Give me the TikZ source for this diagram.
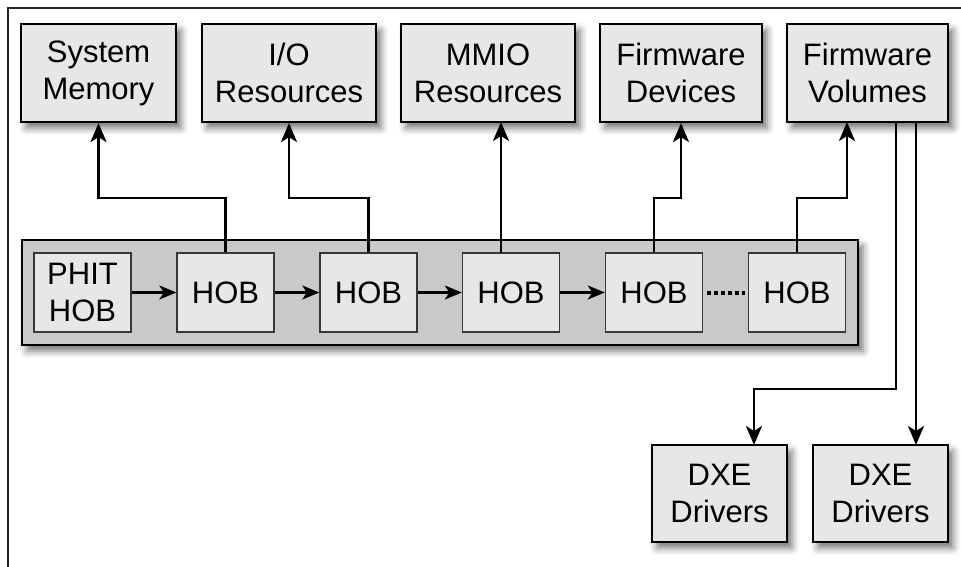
\documentclass[tikz,border=0pt]{standalone}
\usepackage{fontspec}
\setmainfont{Liberation Sans}
\usetikzlibrary{arrows.meta,shadows.blur}
\definecolor{boxgray}{RGB}{230,231,232}
\definecolor{contgray}{RGB}{200,201,203}
\definecolor{hobline}{RGB}{55,55,55}
\begin{document}
\begin{tikzpicture}[x=1pt,y=-1pt,
  font=\fontsize{31}{37}\selectfont,
  shad/.style={blur shadow={shadow xshift=5pt, shadow yshift=-6pt, shadow blur radius=7pt, shadow opacity=55}},
  topbox/.style={draw=black, line width=2.2pt, fill=boxgray, align=center, inner sep=0pt, shad},
  hobbox/.style={draw=hobline, line width=1.4pt, fill=boxgray, align=center, inner sep=0pt, minimum width=97pt, minimum height=79pt},
  contbox/.style={draw=black, line width=2.2pt, fill=contgray, inner sep=0pt, shad},
  arr/.style={line width=2.4pt, -{Stealth[length=19pt,width=16pt,inset=5pt]}},
  harr/.style={line width=2.2pt, -{Stealth[length=17pt,width=14pt,inset=4.5pt]}},
  link/.style={line width=2.4pt}
]
\useasboundingbox (0,0) rectangle (961,567);
\draw[line width=1.6pt, black!85] (8,567) -- (8,8) -- (961,8);

% top boxes
\node[topbox, minimum width=155pt, minimum height=98pt] (sm) at (98.5,73) {System\\Memory};
\node[topbox, minimum width=174pt, minimum height=98pt] (io) at (289,73) {I/O\\Resources};
\node[topbox, minimum width=174pt, minimum height=98pt] (mmio) at (488,73) {MMIO\\Resources};
\node[topbox, minimum width=162pt, minimum height=98pt] (fd) at (681,73) {Firmware\\Devices};
\node[topbox, minimum width=161pt, minimum height=98pt] (fv) at (867.5,73) {Firmware\\Volumes};

% container
\node[contbox, minimum width=836pt, minimum height=105pt] (cont) at (440,292.5) {};

% HOBs
\node[hobbox] (phit) at (82.5,292.5) {PHIT\\HOB};
\node[hobbox] (h1) at (225.5,292.5) {HOB};
\node[hobbox] (h2) at (368.5,292.5) {HOB};
\node[hobbox] (h3) at (511,292.5) {HOB};
\node[hobbox] (h4) at (654,292.5) {HOB};
\node[hobbox] (h5) at (797,292.5) {HOB};

% DXE boxes
\node[topbox, minimum width=135pt, minimum height=97pt] (dxe1) at (719.5,493.5) {DXE\\Drivers};
\node[topbox, minimum width=135pt, minimum height=97pt] (dxe2) at (880.5,493.5) {DXE\\Drivers};

% horizontal chain
\draw[harr] (phit.east) -- (h1.west);
\draw[harr] (h1.east) -- (h2.west);
\draw[harr] (h2.east) -- (h3.west);
\draw[harr] (h3.east) -- (h4.west);
\draw[line width=4pt, dash pattern=on 4pt off 3pt, shorten <=4pt, shorten >=3pt] (h4.east) -- (h5.west);

% upward connectors
\coordinate (fvin) at (847,122);
\coordinate (mmfoot) at (501,253);
\coordinate (mmin) at (501,122);
\draw[arr] (h1.north) |- (98.5,198) -- (sm.south);
\draw[arr] (h2.north) |- (289,198) -- (io.south);
\draw[arr] (mmfoot) -- (mmin);
\draw[arr] (h4.north) |- (681,198) -- (fd.south);
\draw[arr] (h5.north) |- (847,198) -- (fvin);

% downward connectors
\coordinate (fvout1) at (896,122);
\coordinate (fvout2) at (916,122);
\coordinate (d1in) at (754,445);
\coordinate (d2in) at (916,445);
\draw[arr] (fvout1) |- (754,389) -- (d1in);
\draw[arr] (fvout2) -- (d2in);
\end{tikzpicture}
\end{document}
